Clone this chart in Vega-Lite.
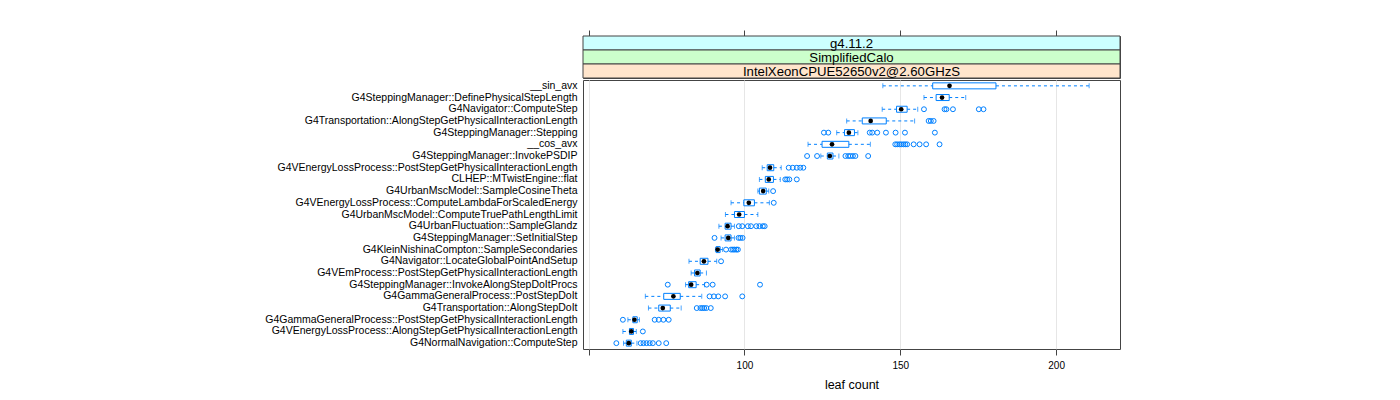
{
  "$schema": "https://vega.github.io/schema/vega-lite/v6.json",
  "padding": {"left": 264, "top": 29, "right": 5, "bottom": 5},
  "background": "white",
  "spacing": 0,
  "config": {
    "font": "Liberation Sans",
    "view": {"stroke": "#444", "strokeWidth": 1},
    "concat": {"spacing": 0}
  },
  "datasets": {
    "strips": [
      {"level": "g4.11.2"},
      {"level": "SimplifiedCalo"},
      {"level": "IntelXeonCPUE52650v2@2.60GHzS"}
    ],
    "boxes": [
      {"fn": "__sin_avx", "lo": 144.4, "q1": 160.4, "med": 165.8, "q3": 180.7, "hi": 210.6},
      {"fn": "G4SteppingManager::DefinePhysicalStepLength", "lo": 157.6, "q1": 161.5, "med": 163.4, "q3": 165.7, "hi": 171},
      {"fn": "G4Navigator::ComputeStep", "lo": 144.2, "q1": 148.8, "med": 150.3, "q3": 152.2, "hi": 155.6},
      {"fn": "G4Transportation::AlongStepGetPhysicalInteractionLength", "lo": 132.8, "q1": 137.8, "med": 140.5, "q3": 145.5, "hi": 154.6},
      {"fn": "G4SteppingManager::Stepping", "lo": 129.6, "q1": 132.1, "med": 133.5, "q3": 135.3, "hi": 136.4},
      {"fn": "__cos_avx", "lo": 120.4, "q1": 124.9, "med": 128.1, "q3": 133.5, "hi": 140.4},
      {"fn": "G4SteppingManager::InvokePSDIP", "lo": 124.5, "q1": 126.6, "med": 127.4, "q3": 128.4, "hi": 130.3},
      {"fn": "G4VEnergyLossProcess::PostStepGetPhysicalInteractionLength", "lo": 105.7, "q1": 107.3, "med": 108.2, "q3": 109.4, "hi": 111.8},
      {"fn": "CLHEP::MTwistEngine::flat", "lo": 104.8, "q1": 106.7, "med": 107.8, "q3": 109.3, "hi": 111.5},
      {"fn": "G4UrbanMscModel::SampleCosineTheta", "lo": 104.3, "q1": 104.8, "med": 106, "q3": 107, "hi": 107.8},
      {"fn": "G4VEnergyLossProcess::ComputeLambdaForScaledEnergy", "lo": 95.7, "q1": 99.8, "med": 101.4, "q3": 103.2, "hi": 108},
      {"fn": "G4UrbanMscModel::ComputeTruePathLengthLimit", "lo": 93.9, "q1": 96.8, "med": 98.3, "q3": 100, "hi": 104.3},
      {"fn": "G4UrbanFluctuation::SampleGlandz", "lo": 91.8, "q1": 93.8, "med": 94.6, "q3": 95.7, "hi": 96.8},
      {"fn": "G4SteppingManager::SetInitialStep", "lo": 92.5, "q1": 93.8, "med": 94.8, "q3": 95.7, "hi": 96.8},
      {"fn": "G4KleinNishinaCompton::SampleSecondaries", "lo": 90.7, "q1": 90.9, "med": 91.4, "q3": 92.2, "hi": 93},
      {"fn": "G4Navigator::LocateGlobalPointAndSetup", "lo": 82.2, "q1": 85.8, "med": 87, "q3": 88.3, "hi": 91.1},
      {"fn": "G4VEmProcess::PostStepGetPhysicalInteractionLength", "lo": 82.9, "q1": 84, "med": 84.9, "q3": 85.8, "hi": 87.8},
      {"fn": "G4SteppingManager::InvokeAlongStepDoItProcs", "lo": 81.1, "q1": 82.1, "med": 82.9, "q3": 84.5, "hi": 87.2},
      {"fn": "G4GammaGeneralProcess::PostStepDoIt", "lo": 68.2, "q1": 74.1, "med": 77.2, "q3": 79.4, "hi": 86.3},
      {"fn": "G4Transportation::AlongStepDoIt", "lo": 69.2, "q1": 72.5, "med": 73.8, "q3": 76.2, "hi": 79.7},
      {"fn": "G4GammaGeneralProcess::PostStepGetPhysicalInteractionLength", "lo": 62.6, "q1": 64.2, "med": 64.7, "q3": 65.6, "hi": 66.3},
      {"fn": "G4VEnergyLossProcess::AlongStepGetPhysicalInteractionLength", "lo": 61, "q1": 63.1, "med": 63.7, "q3": 64.4, "hi": 65.3},
      {"fn": "G4NormalNavigation::ComputeStep", "lo": 61.2, "q1": 62.1, "med": 62.9, "q3": 63.7, "hi": 65.5}
    ],
    "outliers": [
      {"fn": "G4Navigator::ComputeStep", "v": 157.6},
      {"fn": "G4Navigator::ComputeStep", "v": 164.2},
      {"fn": "G4Navigator::ComputeStep", "v": 164.8},
      {"fn": "G4Navigator::ComputeStep", "v": 166.9},
      {"fn": "G4Navigator::ComputeStep", "v": 175.2},
      {"fn": "G4Navigator::ComputeStep", "v": 176.7},
      {"fn": "G4Transportation::AlongStepGetPhysicalInteractionLength", "v": 159.1},
      {"fn": "G4Transportation::AlongStepGetPhysicalInteractionLength", "v": 159.8},
      {"fn": "G4Transportation::AlongStepGetPhysicalInteractionLength", "v": 160.7},
      {"fn": "G4SteppingManager::Stepping", "v": 125.5},
      {"fn": "G4SteppingManager::Stepping", "v": 126.9},
      {"fn": "G4SteppingManager::Stepping", "v": 140.2},
      {"fn": "G4SteppingManager::Stepping", "v": 141},
      {"fn": "G4SteppingManager::Stepping", "v": 142.6},
      {"fn": "G4SteppingManager::Stepping", "v": 145.4},
      {"fn": "G4SteppingManager::Stepping", "v": 148.5},
      {"fn": "G4SteppingManager::Stepping", "v": 151.5},
      {"fn": "G4SteppingManager::Stepping", "v": 161.1},
      {"fn": "__cos_avx", "v": 148.4},
      {"fn": "__cos_avx", "v": 149},
      {"fn": "__cos_avx", "v": 149.7},
      {"fn": "__cos_avx", "v": 150.3},
      {"fn": "__cos_avx", "v": 151},
      {"fn": "__cos_avx", "v": 151.6},
      {"fn": "__cos_avx", "v": 152.2},
      {"fn": "__cos_avx", "v": 154.3},
      {"fn": "__cos_avx", "v": 156.2},
      {"fn": "__cos_avx", "v": 158.3},
      {"fn": "__cos_avx", "v": 162.6},
      {"fn": "G4SteppingManager::InvokePSDIP", "v": 120.1},
      {"fn": "G4SteppingManager::InvokePSDIP", "v": 123.3},
      {"fn": "G4SteppingManager::InvokePSDIP", "v": 132.4},
      {"fn": "G4SteppingManager::InvokePSDIP", "v": 133.3},
      {"fn": "G4SteppingManager::InvokePSDIP", "v": 134},
      {"fn": "G4SteppingManager::InvokePSDIP", "v": 134.8},
      {"fn": "G4SteppingManager::InvokePSDIP", "v": 135.6},
      {"fn": "G4SteppingManager::InvokePSDIP", "v": 139.7},
      {"fn": "G4VEnergyLossProcess::PostStepGetPhysicalInteractionLength", "v": 114.2},
      {"fn": "G4VEnergyLossProcess::PostStepGetPhysicalInteractionLength", "v": 115.5},
      {"fn": "G4VEnergyLossProcess::PostStepGetPhysicalInteractionLength", "v": 116.8},
      {"fn": "G4VEnergyLossProcess::PostStepGetPhysicalInteractionLength", "v": 117.9},
      {"fn": "G4VEnergyLossProcess::PostStepGetPhysicalInteractionLength", "v": 118.9},
      {"fn": "CLHEP::MTwistEngine::flat", "v": 113.1},
      {"fn": "CLHEP::MTwistEngine::flat", "v": 113.7},
      {"fn": "CLHEP::MTwistEngine::flat", "v": 114.4},
      {"fn": "CLHEP::MTwistEngine::flat", "v": 116.8},
      {"fn": "G4UrbanMscModel::SampleCosineTheta", "v": 109.2},
      {"fn": "G4VEnergyLossProcess::ComputeLambdaForScaledEnergy", "v": 109.4},
      {"fn": "G4UrbanFluctuation::SampleGlandz", "v": 98.2},
      {"fn": "G4UrbanFluctuation::SampleGlandz", "v": 99.3},
      {"fn": "G4UrbanFluctuation::SampleGlandz", "v": 101.1},
      {"fn": "G4UrbanFluctuation::SampleGlandz", "v": 102.1},
      {"fn": "G4UrbanFluctuation::SampleGlandz", "v": 103.8},
      {"fn": "G4UrbanFluctuation::SampleGlandz", "v": 104.8},
      {"fn": "G4UrbanFluctuation::SampleGlandz", "v": 105.9},
      {"fn": "G4UrbanFluctuation::SampleGlandz", "v": 106.5},
      {"fn": "G4SteppingManager::SetInitialStep", "v": 90.4},
      {"fn": "G4SteppingManager::SetInitialStep", "v": 98.1},
      {"fn": "G4SteppingManager::SetInitialStep", "v": 98.7},
      {"fn": "G4SteppingManager::SetInitialStep", "v": 99.4},
      {"fn": "G4KleinNishinaCompton::SampleSecondaries", "v": 94.1},
      {"fn": "G4KleinNishinaCompton::SampleSecondaries", "v": 95.7},
      {"fn": "G4KleinNishinaCompton::SampleSecondaries", "v": 96.3},
      {"fn": "G4KleinNishinaCompton::SampleSecondaries", "v": 96.8},
      {"fn": "G4KleinNishinaCompton::SampleSecondaries", "v": 97.4},
      {"fn": "G4KleinNishinaCompton::SampleSecondaries", "v": 97.9},
      {"fn": "G4Navigator::LocateGlobalPointAndSetup", "v": 92.5},
      {"fn": "G4SteppingManager::InvokeAlongStepDoItProcs", "v": 75.4},
      {"fn": "G4SteppingManager::InvokeAlongStepDoItProcs", "v": 87.9},
      {"fn": "G4SteppingManager::InvokeAlongStepDoItProcs", "v": 89.8},
      {"fn": "G4SteppingManager::InvokeAlongStepDoItProcs", "v": 105},
      {"fn": "G4GammaGeneralProcess::PostStepDoIt", "v": 88.8},
      {"fn": "G4GammaGeneralProcess::PostStepDoIt", "v": 90.2},
      {"fn": "G4GammaGeneralProcess::PostStepDoIt", "v": 91.6},
      {"fn": "G4GammaGeneralProcess::PostStepDoIt", "v": 93.8},
      {"fn": "G4GammaGeneralProcess::PostStepDoIt", "v": 99.3},
      {"fn": "G4Transportation::AlongStepDoIt", "v": 84.7},
      {"fn": "G4Transportation::AlongStepDoIt", "v": 85.9},
      {"fn": "G4Transportation::AlongStepDoIt", "v": 86.5},
      {"fn": "G4Transportation::AlongStepDoIt", "v": 87.1},
      {"fn": "G4Transportation::AlongStepDoIt", "v": 87.8},
      {"fn": "G4Transportation::AlongStepDoIt", "v": 89.2},
      {"fn": "G4GammaGeneralProcess::PostStepGetPhysicalInteractionLength", "v": 61},
      {"fn": "G4GammaGeneralProcess::PostStepGetPhysicalInteractionLength", "v": 71.2},
      {"fn": "G4GammaGeneralProcess::PostStepGetPhysicalInteractionLength", "v": 72.5},
      {"fn": "G4GammaGeneralProcess::PostStepGetPhysicalInteractionLength", "v": 74},
      {"fn": "G4GammaGeneralProcess::PostStepGetPhysicalInteractionLength", "v": 75.7},
      {"fn": "G4VEnergyLossProcess::AlongStepGetPhysicalInteractionLength", "v": 67.4},
      {"fn": "G4NormalNavigation::ComputeStep", "v": 58.9},
      {"fn": "G4NormalNavigation::ComputeStep", "v": 66.7},
      {"fn": "G4NormalNavigation::ComputeStep", "v": 67.6},
      {"fn": "G4NormalNavigation::ComputeStep", "v": 68.6},
      {"fn": "G4NormalNavigation::ComputeStep", "v": 69.6},
      {"fn": "G4NormalNavigation::ComputeStep", "v": 70.6},
      {"fn": "G4NormalNavigation::ComputeStep", "v": 72.5},
      {"fn": "G4NormalNavigation::ComputeStep", "v": 74.9}
    ]
  },
  "vconcat": [
    {
      "width": 537,
      "height": 42,
      "data": {"name": "strips"},
      "layer": [
        {
          "mark": {"type": "rect", "stroke": "#444", "strokeWidth": 1},
          "encoding": {
            "y": {"field": "level", "type": "nominal", "sort": null, "scale": {"domain": ["g4.11.2", "SimplifiedCalo", "IntelXeonCPUE52650v2@2.60GHzS"], "paddingInner": 0, "paddingOuter": 0}, "axis": null},
            "x": {"datum": 48.2, "type": "quantitative", "scale": {"domain": [48.2, 220.5], "nice": false, "zero": false},
              "axis": {"orient": "top", "values": [50, 100, 150, 200], "labels": false, "domain": false, "grid": false, "tickSize": 6, "tickColor": "#444", "title": null, "minExtent": 6, "maxExtent": 6}},
            "x2": {"datum": 220.5},
            "fill": {"field": "level", "type": "nominal", "legend": null,
              "scale": {"domain": ["g4.11.2", "SimplifiedCalo", "IntelXeonCPUE52650v2@2.60GHzS"], "range": ["#ccffff", "#ccffcc", "#ffe5cc"]}}
          }
        },
        {
          "mark": {"type": "text", "fontSize": 13.2, "color": "black", "baseline": "middle", "align": "center", "dy": 0.5},
          "encoding": {
            "y": {"field": "level", "type": "nominal", "sort": null},
            "x": {"datum": 134.35, "type": "quantitative"},
            "text": {"field": "level"}
          }
        }
      ]
    },
    {
      "width": 537,
      "height": 269,
      "data": {"name": "boxes"},
      "encoding": {
        "y": {"field": "fn", "type": "nominal", "sort": null,
          "scale": {"paddingInner": 0, "paddingOuter": 0},
          "axis": {"title": null, "ticks": false, "domain": false, "labelFontSize": 10.5, "labelPadding": 6, "labelLimit": 400, "labelColor": "black", "minExtent": 310, "maxExtent": 310}}
      },
      "layer": [
        {
          "mark": {"type": "rule", "color": "#0080ff", "strokeDash": [3, 3], "strokeWidth": 1},
          "encoding": {
            "x": {"field": "lo", "type": "quantitative",
              "scale": {"domain": [48.2, 220.5], "nice": false, "zero": false},
              "axis": {"values": [50, 100, 150, 200], "labelExpr": "datum.value == 50 ? '' : datum.label", "title": "leaf count", "titleFontSize": 12.5, "titleFontWeight": "normal", "titleColor": "black", "titlePadding": 8, "labelFontSize": 10, "labelColor": "black", "labelPadding": 5, "tickSize": 6, "tickColor": "#444", "domain": false, "grid": true, "gridColor": "#e6e6e6"}},
            "x2": {"field": "q1"}
          }
        },
        {
          "mark": {"type": "rule", "color": "#0080ff", "strokeDash": [3, 3], "strokeWidth": 1},
          "encoding": {"x": {"field": "q3", "type": "quantitative"}, "x2": {"field": "hi"}}
        },
        {
          "mark": {"type": "tick", "color": "#0080ff", "size": 5, "thickness": 1, "orient": "vertical"},
          "encoding": {"x": {"field": "lo", "type": "quantitative"}}
        },
        {
          "mark": {"type": "tick", "color": "#0080ff", "size": 5, "thickness": 1, "orient": "vertical"},
          "encoding": {"x": {"field": "hi", "type": "quantitative"}}
        },
        {
          "mark": {"type": "bar", "height": 6, "fill": "transparent", "stroke": "#0080ff", "strokeWidth": 1},
          "encoding": {"x": {"field": "q1", "type": "quantitative"}, "x2": {"field": "q3"}}
        },
        {
          "mark": {"type": "circle", "color": "black", "size": 22, "opacity": 1},
          "encoding": {"x": {"field": "med", "type": "quantitative"}}
        },
        {
          "data": {"name": "outliers"},
          "mark": {"type": "point", "shape": "circle", "filled": false, "color": "#0080ff", "size": 24, "strokeWidth": 1, "opacity": 1},
          "encoding": {"x": {"field": "v", "type": "quantitative"}, "y": {"field": "fn", "type": "nominal", "sort": null}}
        }
      ]
    }
  ]
}
